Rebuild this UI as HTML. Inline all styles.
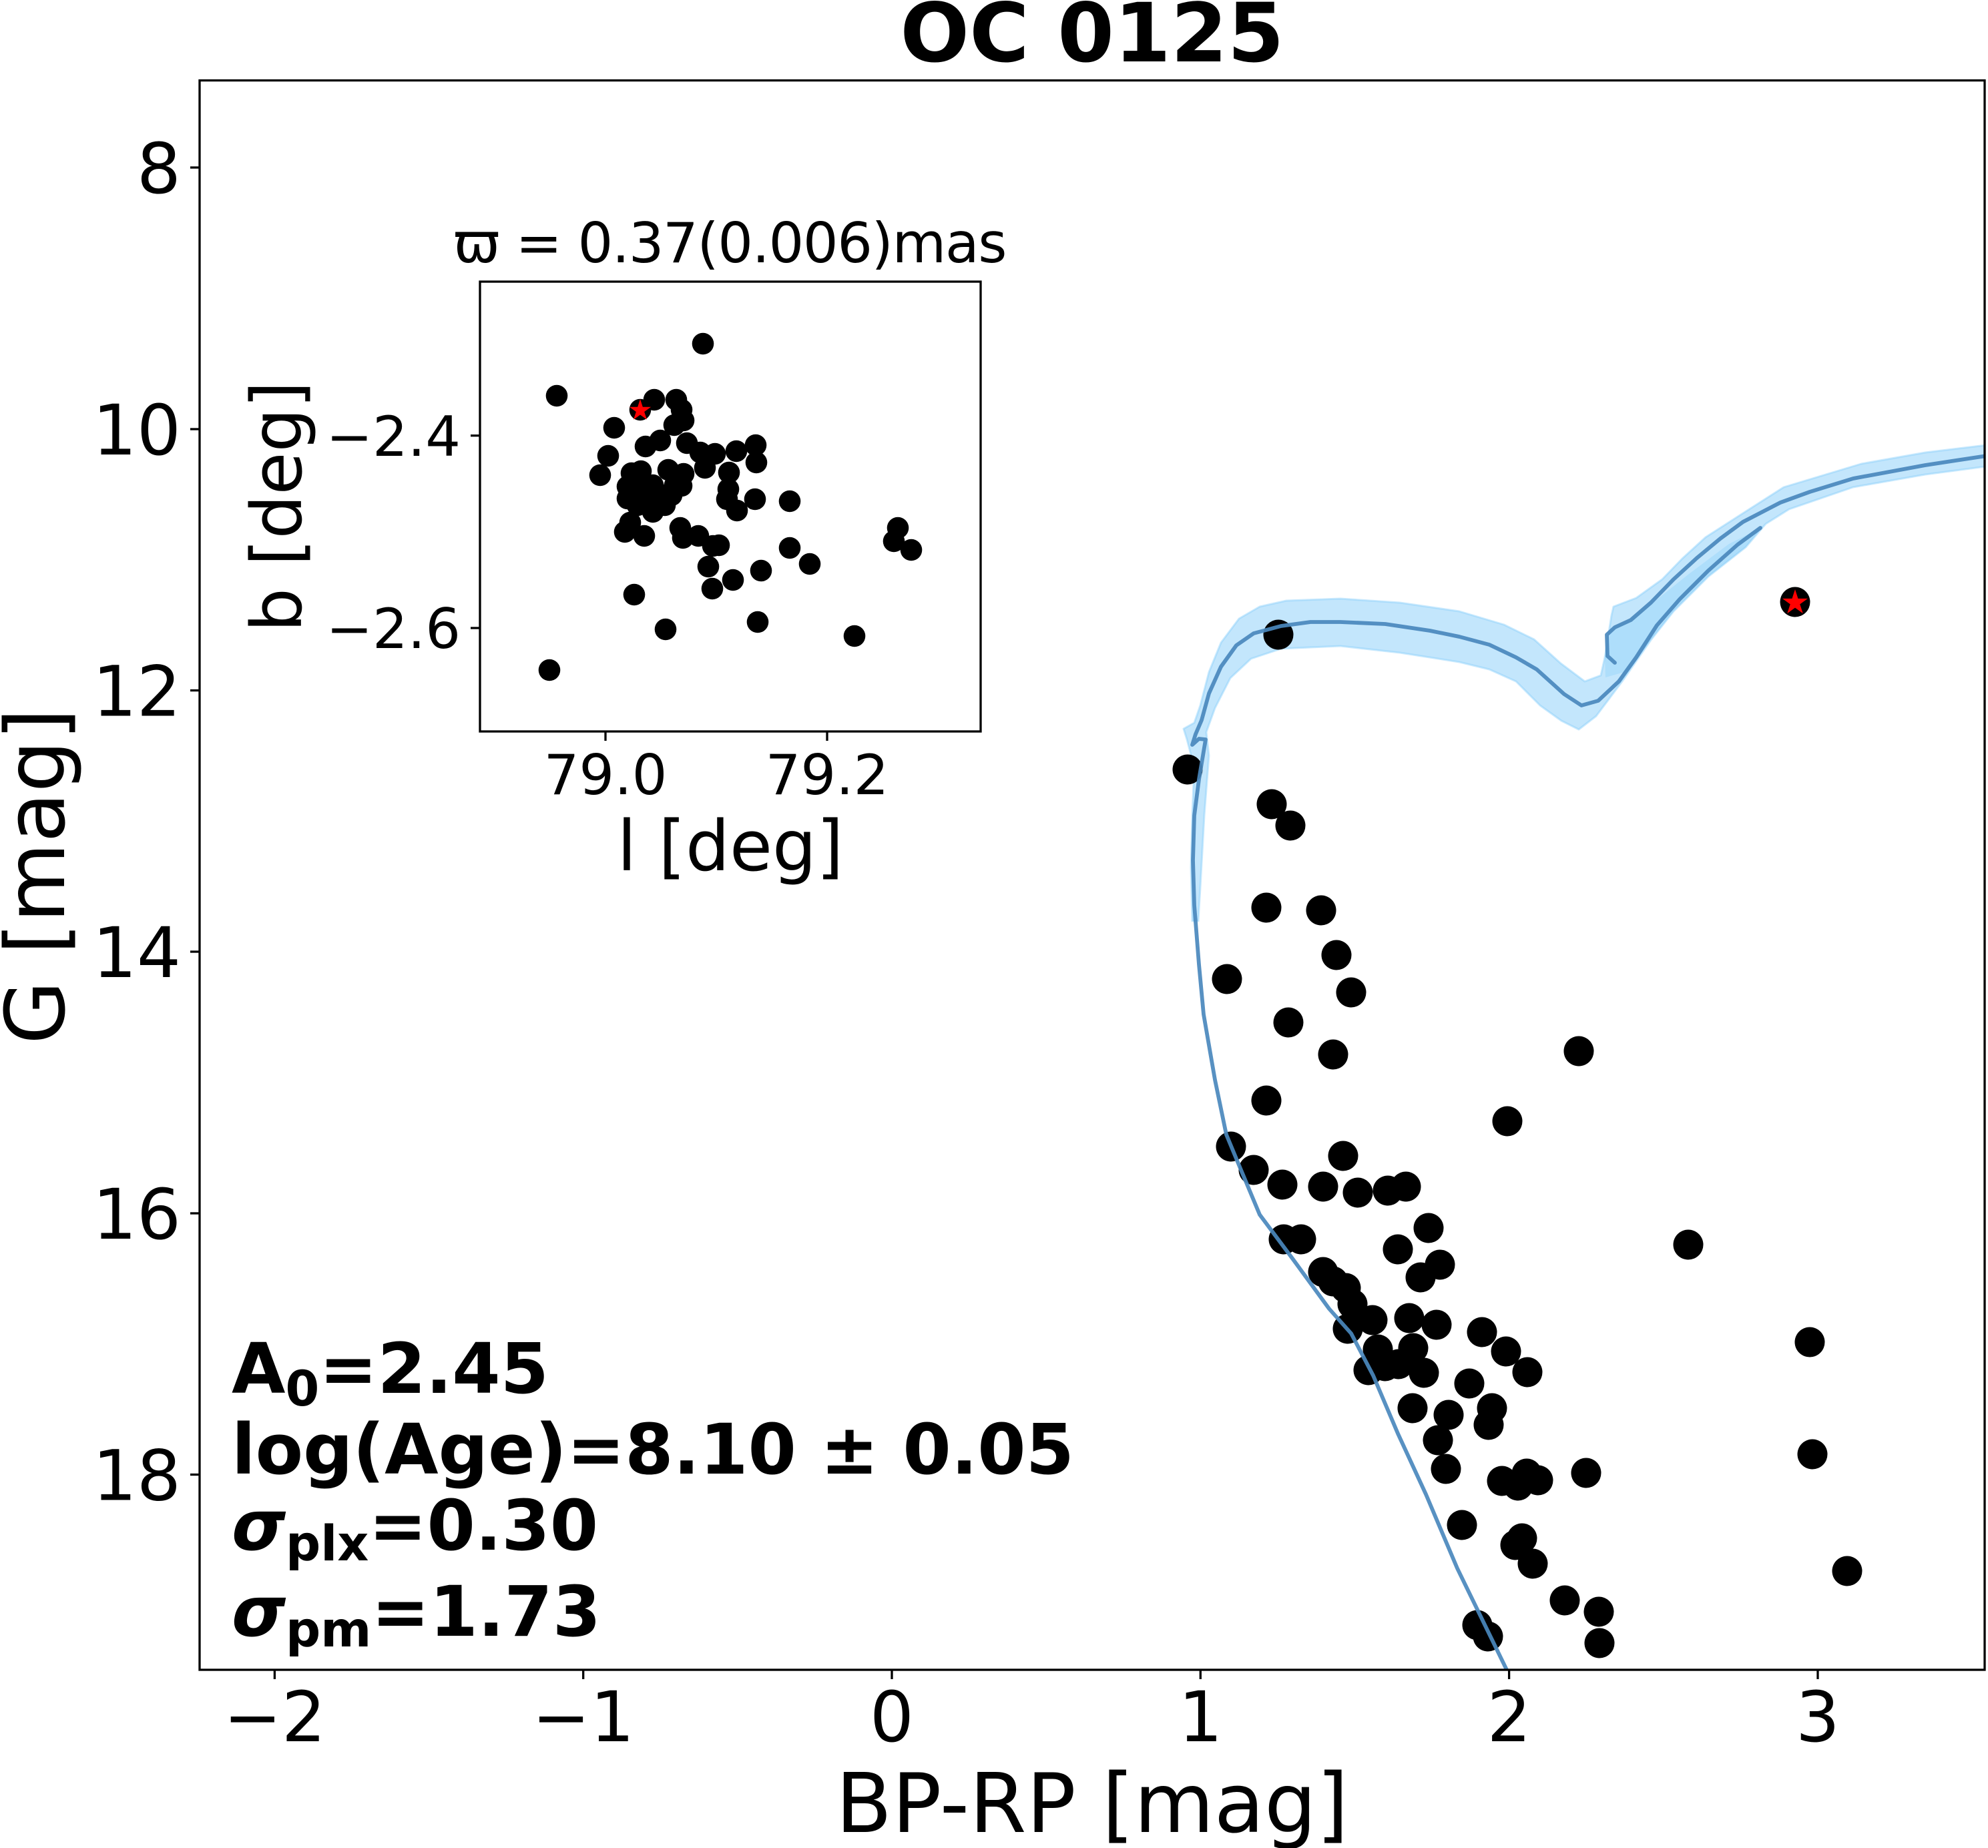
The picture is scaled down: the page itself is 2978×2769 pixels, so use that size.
<!DOCTYPE html>
<html>
<head>
<meta charset="utf-8">
<style>
  html,body{margin:0;padding:0;background:#fff;}
  svg{display:block;}
  text{font-family:"DejaVu Sans","Liberation Sans",sans-serif;fill:#000;}
</style>
</head>
<body>
<svg xmlns="http://www.w3.org/2000/svg" width="2978" height="2769" viewBox="0 0 2978 2769">
  <defs>
    <clipPath id="mainclip"><rect x="299" y="120.5" width="2674" height="2381.5"/></clipPath>
    <clipPath id="insetclip"><rect x="719" y="422" width="750" height="674"/></clipPath>
    <path id="star" d="M0,-1 L0.2245,-0.309 L0.951,-0.309 L0.363,0.118 L0.588,0.809 L0,0.382 L-0.588,0.809 L-0.363,0.118 L-0.951,-0.309 L-0.2245,-0.309 Z"/>
  </defs>
  <rect x="0" y="0" width="2978" height="2769" fill="#fff"/>

  <text x="1636" y="92" font-size="122" font-weight="bold" text-anchor="middle">OC 0125</text>

  <g clip-path="url(#mainclip)">
    <polygon fill="#87cefa" fill-opacity="0.5" stroke="#87cefa" stroke-opacity="0.45" stroke-width="3" stroke-linejoin="round"
      points="1786,1380 1784,1300 1786,1220 1789,1150 1778,1108 1773,1092 1789,1083 1798,1057 1811,1007 1829,963 1856,927 1887,909 1927,900 2008,897 2097,903 2186,916 2253,936 2298,958 2338,994 2374,1021 2398,1012 2404,985 2414,922 2417,909 2451,896 2490,868 2520,837 2555,805 2611,769 2672,730 2788,695 2884,678 2975,667 2975,699 2884,711 2776,730 2680,763 2645,785 2615,820 2559,864 2507,916 2473,959 2430,1021 2391,1073 2365,1093 2339,1080 2307,1057 2271,1021 2231,1003 2186,992 2097,978 2008,968 1919,972 1874,987 1843,1016 1820,1061 1807,1097 1811,1132 1804,1222 1798,1330 1795,1380"/>
    <polygon fill="#87cefa" fill-opacity="0.35" points="2404,985 2414,940 2440,930 2480,900 2530,860 2590,815 2640,790 2615,820 2559,864 2507,916 2473,959 2440,1005 2405,1015"/>

    <g fill="#000">
      <circle cx="1915" cy="951" r="22.5"/>
      <circle cx="1779" cy="1153" r="22.5"/>
      <circle cx="1905" cy="1205" r="22.5"/>
      <circle cx="1933" cy="1237" r="22.5"/>
      <circle cx="1897" cy="1360" r="22.5"/>
      <circle cx="1979" cy="1364" r="22.5"/>
      <circle cx="2002" cy="1431" r="22.5"/>
      <circle cx="1838" cy="1467" r="22.5"/>
      <circle cx="2024" cy="1487" r="22.5"/>
      <circle cx="1930" cy="1532" r="22.5"/>
      <circle cx="1997" cy="1580" r="22.5"/>
      <circle cx="2365" cy="1575" r="22.5"/>
      <circle cx="1897" cy="1649" r="22.5"/>
      <circle cx="2258" cy="1680" r="22.5"/>
      <circle cx="1844" cy="1718" r="22.5"/>
      <circle cx="2012" cy="1732" r="22.5"/>
      <circle cx="1878" cy="1753" r="22.5"/>
      <circle cx="1921" cy="1775" r="22.5"/>
      <circle cx="1982" cy="1778" r="22.5"/>
      <circle cx="2034" cy="1787" r="22.5"/>
      <circle cx="2079" cy="1784" r="22.5"/>
      <circle cx="2106" cy="1778" r="22.5"/>
      <circle cx="2140" cy="1840" r="22.5"/>
      <circle cx="2094" cy="1872" r="22.5"/>
      <circle cx="2529" cy="1865" r="22.5"/>
      <circle cx="2157" cy="1895" r="22.5"/>
      <circle cx="2128" cy="1914" r="22.5"/>
      <circle cx="1923" cy="1857" r="22.5"/>
      <circle cx="1949" cy="1857" r="22.5"/>
      <circle cx="1982" cy="1906" r="22.5"/>
      <circle cx="1997" cy="1920" r="22.5"/>
      <circle cx="2016" cy="1930" r="22.5"/>
      <circle cx="2026" cy="1954" r="22.5"/>
      <circle cx="2056" cy="1978" r="22.5"/>
      <circle cx="2019" cy="1991" r="22.5"/>
      <circle cx="2111" cy="1975" r="22.5"/>
      <circle cx="2152" cy="1985" r="22.5"/>
      <circle cx="2220" cy="1996" r="22.5"/>
      <circle cx="2256" cy="2025" r="22.5"/>
      <circle cx="2288" cy="2056" r="22.5"/>
      <circle cx="2064" cy="2022" r="22.5"/>
      <circle cx="2117" cy="2020" r="22.5"/>
      <circle cx="2050" cy="2053" r="22.5"/>
      <circle cx="2075" cy="2047" r="22.5"/>
      <circle cx="2095" cy="2044" r="22.5"/>
      <circle cx="2133" cy="2057" r="22.5"/>
      <circle cx="2201" cy="2073" r="22.5"/>
      <circle cx="2711" cy="2011" r="22.5"/>
      <circle cx="2116" cy="2110" r="22.5"/>
      <circle cx="2170" cy="2120" r="22.5"/>
      <circle cx="2235" cy="2110" r="22.5"/>
      <circle cx="2230" cy="2135" r="22.5"/>
      <circle cx="2154" cy="2158" r="22.5"/>
      <circle cx="2715" cy="2179" r="22.5"/>
      <circle cx="2166" cy="2201" r="22.5"/>
      <circle cx="2250" cy="2219" r="22.5"/>
      <circle cx="2274" cy="2226" r="22.5"/>
      <circle cx="2287" cy="2208" r="22.5"/>
      <circle cx="2304" cy="2218" r="22.5"/>
      <circle cx="2376" cy="2207" r="22.5"/>
      <circle cx="2190" cy="2285" r="22.5"/>
      <circle cx="2280" cy="2305" r="22.5"/>
      <circle cx="2270" cy="2315" r="22.5"/>
      <circle cx="2296" cy="2343" r="22.5"/>
      <circle cx="2767" cy="2354" r="22.5"/>
      <circle cx="2344" cy="2398" r="22.5"/>
      <circle cx="2395" cy="2415" r="22.5"/>
      <circle cx="2396" cy="2462" r="22.5"/>
      <circle cx="2213" cy="2435" r="22.5"/>
      <circle cx="2229" cy="2452" r="22.5"/>
      <circle cx="2689" cy="902" r="22.5"/>
    </g>
    <use href="#star" transform="translate(2689,903) scale(20)" fill="#ff0000"/>

    <g fill="none" stroke="#4a88bd" stroke-opacity="0.92" stroke-width="5.8" stroke-linejoin="round" stroke-linecap="round">
      <polyline points="2257,2502 2183,2350 2136,2239 2094,2148 2057,2061 2024,1998 1991,1961 1937,1887 1887,1820 1854,1741 1837,1700 1820,1618 1803,1520 1796,1445 1789,1356 1787,1289 1789,1222 1796,1168 1802,1132 1806,1108 1796,1107 1786,1116 1791,1100 1800,1079 1811,1039 1829,999 1852,967 1878,949 1919,938 1963,932 2008,932 2075,935 2142,945 2186,954 2231,966 2271,985 2302,1003 2343,1040 2369,1057 2394,1050 2425,1021 2451,985 2482,937 2516,898 2559,855 2603,816 2637,791"/>
      <polyline points="2419,993 2408,983 2407,951 2419,940 2443,929 2473,903 2507,868 2542,836 2577,807 2611,782 2667,753 2711,737 2776,717 2884,697 2976,683"/>
    </g>
  </g>

  <rect x="299" y="120.5" width="2674" height="2381.5" fill="none" stroke="#000" stroke-width="3.3"/>

  <g stroke="#000" stroke-width="3.3">
    <line x1="285" y1="251" x2="299" y2="251"/>
    <line x1="285" y1="643" x2="299" y2="643"/>
    <line x1="285" y1="1034.5" x2="299" y2="1034.5"/>
    <line x1="285" y1="1426" x2="299" y2="1426"/>
    <line x1="285" y1="1818" x2="299" y2="1818"/>
    <line x1="285" y1="2209.5" x2="299" y2="2209.5"/>
  </g>
  <g font-size="104" text-anchor="end">
    <text x="271" y="289">8</text>
    <text x="271" y="681">10</text>
    <text x="271" y="1072.5">12</text>
    <text x="271" y="1464">14</text>
    <text x="271" y="1856">16</text>
    <text x="271" y="2247.5">18</text>
  </g>

  <g stroke="#000" stroke-width="3.3">
    <line x1="411.4" y1="2502" x2="411.4" y2="2516"/>
    <line x1="873.7" y1="2502" x2="873.7" y2="2516"/>
    <line x1="1336" y1="2502" x2="1336" y2="2516"/>
    <line x1="1798.3" y1="2502" x2="1798.3" y2="2516"/>
    <line x1="2260.6" y1="2502" x2="2260.6" y2="2516"/>
    <line x1="2723" y1="2502" x2="2723" y2="2516"/>
  </g>
  <g font-size="104" text-anchor="middle">
    <text x="411.4" y="2609">−2</text>
    <text x="873.7" y="2609">−1</text>
    <text x="1336" y="2609">0</text>
    <text x="1798.3" y="2609">1</text>
    <text x="2260.6" y="2609">2</text>
    <text x="2723" y="2609">3</text>
  </g>

  <text x="1636" y="2745" font-size="123" text-anchor="middle">BP-RP [mag]</text>
  <text transform="translate(96,1313) rotate(-90)" font-size="123" text-anchor="middle">G [mag]</text>

  <g font-size="104" font-weight="bold">
    <text x="347" y="2087">A<tspan font-size="73" dy="19">0</tspan><tspan dy="-19">=2.45</tspan></text>
    <text x="347" y="2208">log(Age)=8.10 ± 0.05</text>
    <text x="347" y="2322"><tspan font-style="italic">σ</tspan><tspan font-size="73" dy="16">plx</tspan><tspan dy="-16">=0.30</tspan></text>
    <text x="347" y="2451"><tspan font-style="italic">σ</tspan><tspan font-size="73" dy="16">pm</tspan><tspan dy="-16">=1.73</tspan></text>
  </g>

  <rect x="719" y="422" width="750" height="674" fill="#fff"/>
  <g clip-path="url(#insetclip)" fill="#000">
    <circle cx="1053" cy="515" r="16.3"/>
    <circle cx="834" cy="593" r="16.3"/>
    <circle cx="980" cy="599" r="16.3"/>
    <circle cx="1013" cy="599" r="16.3"/>
    <circle cx="1021" cy="614" r="16.3"/>
    <circle cx="1024" cy="630" r="16.3"/>
    <circle cx="1010" cy="637" r="16.3"/>
    <circle cx="920" cy="641" r="16.3"/>
    <circle cx="989" cy="660" r="16.3"/>
    <circle cx="967" cy="669" r="16.3"/>
    <circle cx="1029" cy="664" r="16.3"/>
    <circle cx="1049" cy="678" r="16.3"/>
    <circle cx="1071" cy="680" r="16.3"/>
    <circle cx="1103" cy="676" r="16.3"/>
    <circle cx="1132" cy="667" r="16.3"/>
    <circle cx="1133" cy="693" r="16.3"/>
    <circle cx="911" cy="683" r="16.3"/>
    <circle cx="899" cy="712" r="16.3"/>
    <circle cx="946" cy="709" r="16.3"/>
    <circle cx="960" cy="706" r="16.3"/>
    <circle cx="1001" cy="704" r="16.3"/>
    <circle cx="1024" cy="710" r="16.3"/>
    <circle cx="1056" cy="701" r="16.3"/>
    <circle cx="1092" cy="708" r="16.3"/>
    <circle cx="940" cy="729" r="16.3"/>
    <circle cx="955" cy="727" r="16.3"/>
    <circle cx="1021" cy="728" r="16.3"/>
    <circle cx="1091" cy="733" r="16.3"/>
    <circle cx="940" cy="747" r="16.3"/>
    <circle cx="965" cy="742" r="16.3"/>
    <circle cx="996" cy="742" r="16.3"/>
    <circle cx="1006" cy="742" r="16.3"/>
    <circle cx="978" cy="767" r="16.3"/>
    <circle cx="996" cy="757" r="16.3"/>
    <circle cx="1089" cy="748" r="16.3"/>
    <circle cx="1104" cy="765" r="16.3"/>
    <circle cx="1131" cy="748" r="16.3"/>
    <circle cx="1183" cy="751" r="16.3"/>
    <circle cx="944" cy="783" r="16.3"/>
    <circle cx="936" cy="797" r="16.3"/>
    <circle cx="965" cy="803" r="16.3"/>
    <circle cx="1019" cy="791" r="16.3"/>
    <circle cx="1023" cy="806" r="16.3"/>
    <circle cx="1046" cy="803" r="16.3"/>
    <circle cx="1077" cy="817" r="16.3"/>
    <circle cx="1068" cy="818" r="16.3"/>
    <circle cx="1345" cy="791" r="16.3"/>
    <circle cx="1339" cy="811" r="16.3"/>
    <circle cx="1365" cy="824" r="16.3"/>
    <circle cx="1183" cy="821" r="16.3"/>
    <circle cx="1213" cy="845" r="16.3"/>
    <circle cx="1061" cy="849" r="16.3"/>
    <circle cx="1140" cy="855" r="16.3"/>
    <circle cx="1098" cy="869" r="16.3"/>
    <circle cx="1067" cy="882" r="16.3"/>
    <circle cx="950" cy="891" r="16.3"/>
    <circle cx="1135" cy="932" r="16.3"/>
    <circle cx="997" cy="943" r="16.3"/>
    <circle cx="1280" cy="953" r="16.3"/>
    <circle cx="823" cy="1004" r="16.3"/>
    <circle cx="978" cy="727" r="16.3"/>
    <circle cx="1011" cy="727" r="16.3"/>
    <circle cx="986" cy="752" r="16.3"/>
    <circle cx="955" cy="757" r="16.3"/>
    <circle cx="959" cy="614" r="16.3"/>
    <use href="#star" transform="translate(959,615) scale(17)" fill="#ff0000"/>
  </g>
  <rect x="719" y="422" width="750" height="674" fill="none" stroke="#000" stroke-width="3.3"/>

  <g stroke="#000" stroke-width="3.3">
    <line x1="705" y1="652.7" x2="719" y2="652.7"/>
    <line x1="705" y1="941" x2="719" y2="941"/>
    <line x1="907" y1="1096" x2="907" y2="1110"/>
    <line x1="1239" y1="1096" x2="1239" y2="1110"/>
  </g>
  <g font-size="83">
    <text x="690" y="683" text-anchor="end">−2.4</text>
    <text x="690" y="971" text-anchor="end">−2.6</text>
    <text x="907" y="1190" text-anchor="middle">79.0</text>
    <text x="1239" y="1190" text-anchor="middle">79.2</text>
    <text x="1094" y="393" text-anchor="middle" textLength="829" lengthAdjust="spacing">ϖ = 0.37(0.006)mas</text>
  </g>
  <text x="1094" y="1304" font-size="104" text-anchor="middle">l [deg]</text>
  <text transform="translate(451,759) rotate(-90)" font-size="104" text-anchor="middle">b [deg]</text>
</svg>
</body>
</html>
